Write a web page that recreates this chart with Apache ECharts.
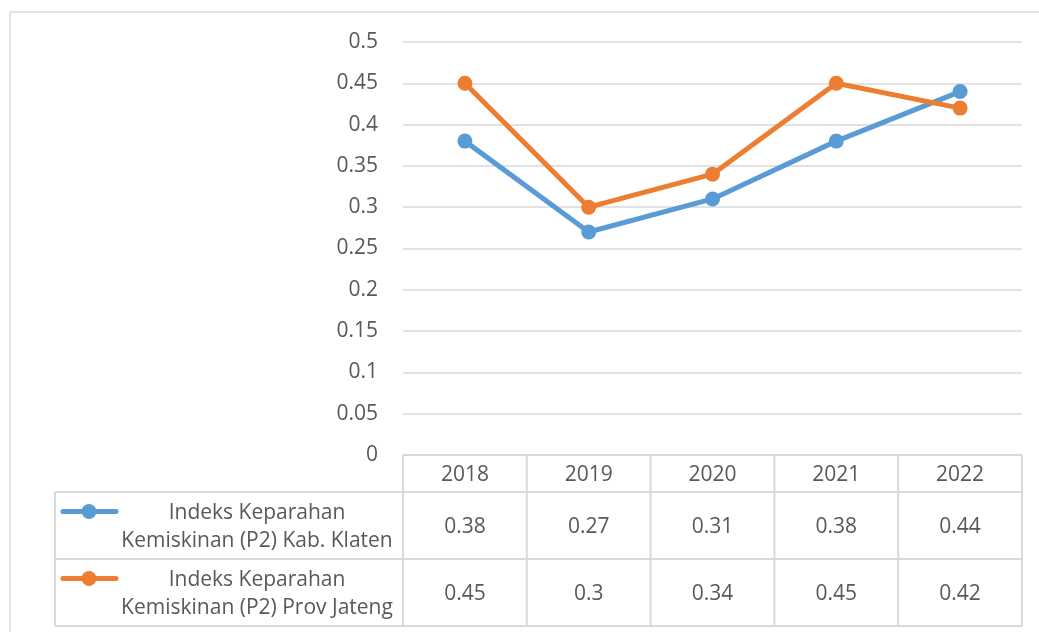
<!DOCTYPE html>
<html>
<head>
<meta charset="utf-8">
<title>Indeks Keparahan Kemiskinan (P2)</title>
<script src="https://cdn.jsdelivr.net/npm/echarts@6/dist/echarts.min.js"></script>
<style>
  html, body { margin: 0; padding: 0; background: #fff; }
  #chart { width: 1039px; height: 632px; }
</style>
</head>
<body>
<div id="chart"></div>
<script>
// data
const years = ['2018', '2019', '2020', '2021', '2022']
const klaten = [0.38, 0.27, 0.31, 0.38, 0.44]
const jateng = [0.45, 0.3, 0.34, 0.45, 0.42]
const seriesNames = [
  ['Indeks Keparahan', 'Kemiskinan (P2) Kab. Klaten'],
  ['Indeks Keparahan', 'Kemiskinan (P2) Prov Jateng']
]
const colors = ['#5B9BD5', '#ED7D31']

const FONT = '"Open Sans", "Noto Sans", sans-serif'
const FS = 21
const TEXT = '#595959'
const LINE = '#D9D9D9'

const myChart = echarts.init(document.getElementById('chart'))

const fmt = v => String(+v.toFixed(2))

myChart.setOption({
  animation: false,
  grid: { left: 403, right: 17, top: 42, bottom: 177 },
  xAxis: {
    type: 'category',
    data: years,
    axisLine: { show: false },
    axisTick: { show: false },
    axisLabel: { show: false }
  },
  yAxis: {
    type: 'value',
    min: 0,
    max: 0.5,
    interval: 0.05,
    axisLine: { show: false },
    axisTick: { show: false },
    axisLabel: { color: TEXT, fontSize: FS, fontFamily: FONT, margin: 25, padding: [4, 0, 0, 0], formatter: fmt },
    splitLine: { lineStyle: { color: LINE, width: 1.5 } }
  },
  series: [klaten, jateng].map((d, i) => ({
    name: seriesNames[i].join(' '),
    type: 'line',
    data: d,
    symbol: 'circle',
    symbolSize: 15,
    lineStyle: { color: colors[i], width: 5 },
    itemStyle: { color: colors[i] }
  }))
})

// data table below the plot, aligned with the category axis
function buildTable() {
  const centers = years.map((y, i) => myChart.convertToPixel({ xAxisIndex: 0 }, i))
  const half = (centers[1] - centers[0]) / 2
  const left = centers[0] - half
  const right = centers[centers.length - 1] + half
  const tableLeft = 55
  const top = myChart.convertToPixel({ yAxisIndex: 0 }, 0)
  const headH = 37
  const rowH = 67
  const rows = [klaten, jateng]
  const bottom = top + headH + rowH * rows.length
  const els = []
  const ln = (x1, y1, x2, y2) => els.push({
    type: 'line', shape: { x1, y1, x2, y2 },
    style: { stroke: LINE, lineWidth: 2 }, silent: true
  })
  const txt = (x, y, t) => els.push({
    type: 'text', x, y: y + 2,
    style: { text: t, fill: TEXT, font: FS + 'px ' + FONT, textAlign: 'center', textVerticalAlign: 'middle' }
  })

  // frame lines
  ln(left, top, right, top)
  for (let r = 0; r <= rows.length; r++) {
    const y = top + headH + rowH * r
    ln(tableLeft, y, right, y)
  }
  ln(tableLeft, top + headH, tableLeft, bottom)
  for (let c = 0; c <= years.length; c++) {
    const x = left + half * 2 * c
    ln(x, top, x, bottom)
  }

  years.forEach((y, i) => txt(centers[i], top + headH / 2, y))

  rows.forEach((d, r) => {
    const cy = top + headH + rowH * r + rowH / 2
    d.forEach((v, i) => txt(centers[i], cy, fmt(v)))
    // legend key
    els.push({ type: 'line', shape: { x1: 63, y1: cy - 14, x2: 116, y2: cy - 14 },
      style: { stroke: colors[r], lineWidth: 5, lineCap: 'round' } })
    els.push({ type: 'circle', shape: { cx: 89, cy: cy - 14, r: 7.5 }, style: { fill: colors[r] } })
    txt(257, cy - 14, seriesNames[r][0])
    txt(257, cy + 14, seriesNames[r][1])
  })

  // outer chart border
  els.push({ type: 'rect', shape: { x: 10, y: 12, width: 1100, height: 700 },
    style: { fill: 'none', stroke: LINE, lineWidth: 1.5 }, silent: true })

  myChart.setOption({ graphic: els })
}

buildTable()
</script>
</body>
</html>
